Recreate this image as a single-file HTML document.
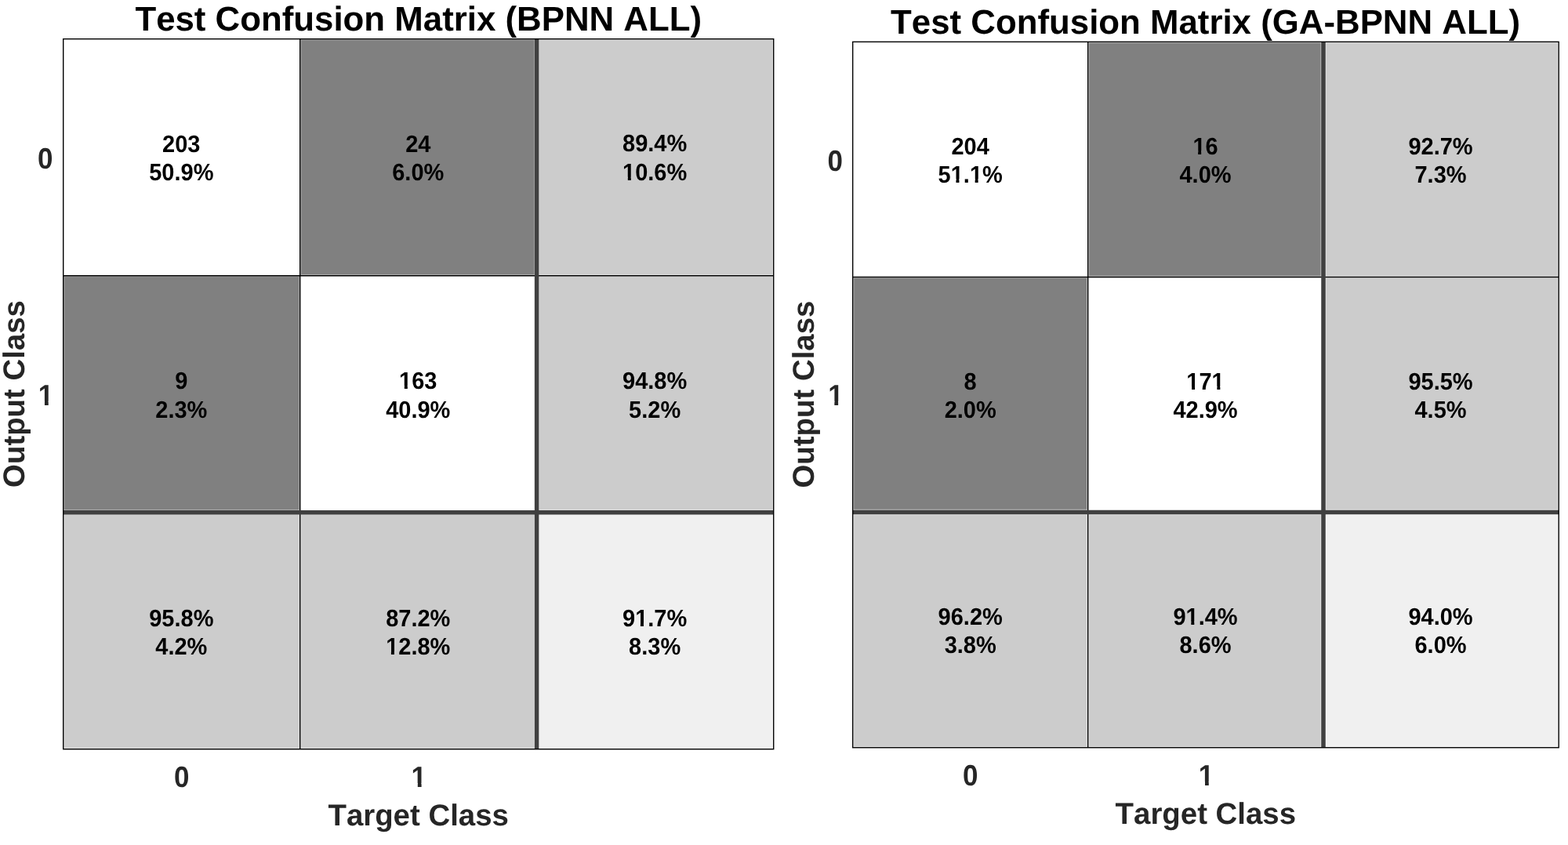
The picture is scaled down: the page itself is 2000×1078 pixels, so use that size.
<!DOCTYPE html>
<html lang="en">
<head>
<meta charset="utf-8">
<title>Test Confusion Matrices</title>
<style>
html,body{margin:0;padding:0;background:#fff;}
svg{display:block;font-family:"Liberation Sans", Arial, sans-serif;font-weight:bold;font-kerning:none;text-rendering:geometricPrecision;}
.t{fill:#000;text-anchor:middle;}
.a{fill:#262626;text-anchor:middle;}
</style>
</head>
<body>
<svg width="2000" height="1078" viewBox="0 0 2000 1078">
<defs>
<clipPath id="k1"><path clip-rule="evenodd" d="M-400 -400H400V400H-400ZM-40.79 -4.16H-34.35V1.50H-40.79ZM-30.37 -4.16H-24.29V1.50H-30.37Z"/></clipPath>
<clipPath id="k2"><path clip-rule="evenodd" d="M-400 -400H400V400H-400ZM-23.87 -4.16H-17.42V1.50H-23.87ZM-13.45 -4.16H-7.37V1.50H-13.45Z"/></clipPath>
<clipPath id="k3"><path clip-rule="evenodd" d="M-400 -400H400V400H-400ZM-40.79 -4.16H-34.35V1.50H-40.79ZM-30.37 -4.16H-24.29V1.50H-30.37Z"/></clipPath>
<clipPath id="k4"><path clip-rule="evenodd" d="M-400 -400H400V400H-400ZM-24.66 -4.16H-18.22V1.50H-24.66ZM-14.24 -4.16H-8.16V1.50H-14.24Z"/></clipPath>
<clipPath id="k5"><path clip-rule="evenodd" d="M-400 -400H400V400H-400ZM-9.03 -4.77H-1.56V1.50H-9.03ZM3.24 -4.77H10.26V1.50H3.24Z"/></clipPath>
<clipPath id="k6"><path clip-rule="evenodd" d="M-400 -400H400V400H-400ZM-24.66 -4.16H-18.22V1.50H-24.66ZM-14.24 -4.16H-8.16V1.50H-14.24ZM-0.47 -4.16H5.97V1.50H-0.47ZM9.95 -4.16H16.02V1.50H9.95Z"/></clipPath>
<clipPath id="k7"><path clip-rule="evenodd" d="M-400 -400H400V400H-400ZM-15.80 -4.16H-9.36V1.50H-15.80ZM-5.38 -4.16H0.69V1.50H-5.38Z"/></clipPath>
<clipPath id="k8"><path clip-rule="evenodd" d="M-400 -400H400V400H-400ZM-23.87 -4.16H-17.42V1.50H-23.87ZM-13.45 -4.16H-7.37V1.50H-13.45ZM8.39 -4.16H14.83V1.50H8.39ZM18.81 -4.16H24.89V1.50H18.81Z"/></clipPath>
<clipPath id="k9"><path clip-rule="evenodd" d="M-400 -400H400V400H-400ZM-24.66 -4.16H-18.22V1.50H-24.66ZM-14.24 -4.16H-8.16V1.50H-14.24Z"/></clipPath>
</defs>
<rect x="0" y="0" width="2000" height="1078" fill="#fff"/>
<g>
<rect x="382.70" y="49.70" width="301.90" height="302.00" fill="#808080"/>
<rect x="684.60" y="49.70" width="302.12" height="302.00" fill="#cccccc"/>
<rect x="80.70" y="351.70" width="302.00" height="301.95" fill="#808080"/>
<rect x="684.60" y="351.70" width="302.12" height="301.95" fill="#cccccc"/>
<rect x="80.70" y="653.65" width="302.00" height="302.05" fill="#cccccc"/>
<rect x="382.70" y="653.65" width="301.90" height="302.05" fill="#cccccc"/>
<rect x="684.60" y="653.65" width="302.12" height="302.05" fill="#f0f0f0"/>
<g stroke="#fff" stroke-opacity="0.35" fill="none">
<path stroke-width="3.20" d="M382.70 49.7V955.7M80.7 351.70H986.72M80.70 49.70H986.72V955.70H80.70Z"/>
<path stroke-width="7.30" d="M684.6 49.7V955.7M80.7 653.65H986.72"/>
</g>
<path stroke="#000" stroke-width="1.4" fill="none" d="M382.70 49.7V955.7M80.7 351.70H986.72"/>
<path stroke="#404040" stroke-width="5.5" fill="none" d="M684.6 49.7V955.7M80.7 653.65H986.72"/>
<rect x="80.70" y="49.70" width="906.02" height="906.00" fill="none" stroke="#000" stroke-width="1.4"/>
<text class="t" transform="translate(533.71,39.00)" font-size="43.8">Test Confusion Matrix (BPNN ALL)</text>
<text class="t" transform="translate(231.30,194.35) scale(1,1.05)" font-size="29">203</text>
<text class="t" transform="translate(231.30,230.10) scale(1,1.05)" font-size="29">50.9%</text>
<text class="t" transform="translate(533.25,194.35) scale(1,1.05)" font-size="29">24</text>
<text class="t" transform="translate(533.25,230.10) scale(1,1.05)" font-size="29">6.0%</text>
<text class="t" transform="translate(835.16,193.30) scale(1,1.05)" font-size="29">89.4%</text>
<text class="t" transform="translate(835.16,230.10) scale(1,1.05)" font-size="29" clip-path="url(#k1)">10.6%</text>
<text class="t" transform="translate(231.30,496.45) scale(1,1.05)" font-size="29">9</text>
<text class="t" transform="translate(231.30,532.75) scale(1,1.05)" font-size="29">2.3%</text>
<text class="t" transform="translate(533.25,496.45) scale(1,1.05)" font-size="29" clip-path="url(#k2)">163</text>
<text class="t" transform="translate(533.25,532.75) scale(1,1.05)" font-size="29">40.9%</text>
<text class="t" transform="translate(835.16,496.45) scale(1,1.05)" font-size="29">94.8%</text>
<text class="t" transform="translate(835.16,532.75) scale(1,1.05)" font-size="29">5.2%</text>
<text class="t" transform="translate(231.30,798.80) scale(1,1.05)" font-size="29">95.8%</text>
<text class="t" transform="translate(231.30,834.80) scale(1,1.05)" font-size="29">4.2%</text>
<text class="t" transform="translate(533.25,798.80) scale(1,1.05)" font-size="29">87.2%</text>
<text class="t" transform="translate(533.25,834.80) scale(1,1.05)" font-size="29" clip-path="url(#k3)">12.8%</text>
<text class="t" transform="translate(835.16,798.80) scale(1,1.05)" font-size="29" clip-path="url(#k4)">91.7%</text>
<text class="t" transform="translate(835.16,834.80) scale(1,1.05)" font-size="29">8.3%</text>
<text class="a" transform="translate(57.80,214.60) scale(1,1.07)" font-size="35">0</text>
<text class="a" transform="translate(231.70,1004.00) scale(1,1.07)" font-size="35">0</text>
<text class="a" transform="translate(58.50,516.50) scale(1,1.07)" font-size="35" clip-path="url(#k5)">1</text>
<text class="a" transform="translate(534.35,1004.00) scale(1,1.07)" font-size="35" clip-path="url(#k5)">1</text>
<text class="a" transform="translate(533.65,1053.00)" font-size="38.4">Target Class</text>
<text class="a" transform="translate(31.00,502.47) rotate(-90)" font-size="38.4">Output Class</text>
</g>
<g>
<rect x="1387.68" y="53.40" width="300.32" height="300.05" fill="#808080"/>
<rect x="1688.00" y="53.40" width="300.20" height="300.05" fill="#cccccc"/>
<rect x="1087.68" y="353.45" width="300.00" height="300.05" fill="#808080"/>
<rect x="1688.00" y="353.45" width="300.20" height="300.05" fill="#cccccc"/>
<rect x="1087.68" y="653.50" width="300.00" height="300.25" fill="#cccccc"/>
<rect x="1387.68" y="653.50" width="300.32" height="300.25" fill="#cccccc"/>
<rect x="1688.00" y="653.50" width="300.20" height="300.25" fill="#f0f0f0"/>
<g stroke="#fff" stroke-opacity="0.5" fill="none">
<path stroke-width="3.20" d="M1387.68 53.4V953.75M1087.68 353.45H1988.2M1087.68 53.40H1988.20V953.75H1087.68Z"/>
<path stroke-width="7.30" d="M1688.0 53.4V953.75M1087.68 653.5H1988.2"/>
</g>
<path stroke="#000" stroke-width="1.4" fill="none" d="M1387.68 53.4V953.75M1087.68 353.45H1988.2"/>
<path stroke="#404040" stroke-width="5.5" fill="none" d="M1688.0 53.4V953.75M1087.68 653.5H1988.2"/>
<rect x="1087.68" y="53.40" width="900.52" height="900.35" fill="none" stroke="#000" stroke-width="1.4"/>
<text class="t" transform="translate(1537.54,43.00)" font-size="43.8">Test Confusion Matrix (GA-BPNN ALL)</text>
<text class="t" transform="translate(1237.68,196.60) scale(1,1.05)" font-size="29">204</text>
<text class="t" transform="translate(1237.68,232.70) scale(1,1.05)" font-size="29" clip-path="url(#k6)">51.1%</text>
<text class="t" transform="translate(1537.54,196.60) scale(1,1.05)" font-size="29" clip-path="url(#k7)">16</text>
<text class="t" transform="translate(1537.54,232.70) scale(1,1.05)" font-size="29">4.0%</text>
<text class="t" transform="translate(1837.50,196.60) scale(1,1.05)" font-size="29">92.7%</text>
<text class="t" transform="translate(1837.50,232.70) scale(1,1.05)" font-size="29">7.3%</text>
<text class="t" transform="translate(1237.68,497.05) scale(1,1.05)" font-size="29">8</text>
<text class="t" transform="translate(1237.68,533.15) scale(1,1.05)" font-size="29">2.0%</text>
<text class="t" transform="translate(1537.54,497.05) scale(1,1.05)" font-size="29" clip-path="url(#k8)">171</text>
<text class="t" transform="translate(1537.54,533.15) scale(1,1.05)" font-size="29">42.9%</text>
<text class="t" transform="translate(1837.50,497.05) scale(1,1.05)" font-size="29">95.5%</text>
<text class="t" transform="translate(1837.50,533.15) scale(1,1.05)" font-size="29">4.5%</text>
<text class="t" transform="translate(1237.68,797.45) scale(1,1.05)" font-size="29">96.2%</text>
<text class="t" transform="translate(1237.68,833.45) scale(1,1.05)" font-size="29">3.8%</text>
<text class="t" transform="translate(1537.54,797.45) scale(1,1.05)" font-size="29" clip-path="url(#k9)">91.4%</text>
<text class="t" transform="translate(1537.54,833.45) scale(1,1.05)" font-size="29">8.6%</text>
<text class="t" transform="translate(1837.50,797.45) scale(1,1.05)" font-size="29">94.0%</text>
<text class="t" transform="translate(1837.50,833.45) scale(1,1.05)" font-size="29">6.0%</text>
<text class="a" transform="translate(1065.20,217.90) scale(1,1.07)" font-size="35">0</text>
<text class="a" transform="translate(1237.68,1002.10) scale(1,1.07)" font-size="35">0</text>
<text class="a" transform="translate(1065.90,516.90) scale(1,1.07)" font-size="35" clip-path="url(#k5)">1</text>
<text class="a" transform="translate(1538.54,1002.10) scale(1,1.07)" font-size="35" clip-path="url(#k5)">1</text>
<text class="a" transform="translate(1537.84,1051.00)" font-size="38.4">Target Class</text>
<text class="a" transform="translate(1038.10,503.08) rotate(-90)" font-size="38.4">Output Class</text>
</g>
</svg>
</body>
</html>
